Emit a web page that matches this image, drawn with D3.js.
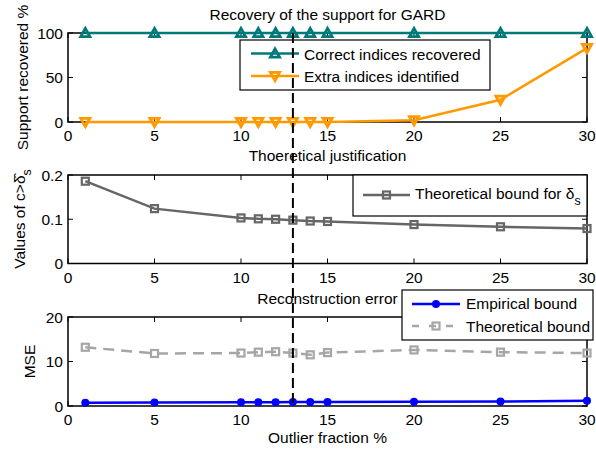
<!DOCTYPE html>
<html><head><meta charset="utf-8">
<script src="https://cdn.jsdelivr.net/npm/d3@7"></script>
<style>body{margin:0;background:#fff}svg{display:block}text{font-family:"Liberation Sans",Arial,sans-serif;}</style>
</head><body>
<script>
const xVals = [1,5,10,11,12,13,14,15,20,25,30];
const correctRecovered = [100,100,100,100,100,100,100,100,100,100,100];
const extraIdentified = [0,0,0,0,0,0,0,0,2,25,83];
const deltaBound = [0.186,0.124,0.103,0.101,0.100,0.098,0.096,0.095,0.088,0.083,0.079];
const empiricalMSE = [0.75,0.8,0.85,0.85,0.85,0.9,0.9,0.9,0.95,1.0,1.2];
const theoreticalMSE = [13.2,11.8,11.9,12.1,12.2,11.9,11.5,12.0,12.6,12.1,11.9];
const xTicks = [0,5,10,15,20,25,30];
const threshold = 13;
const titles = ["Recovery of the support for GARD","Thoeretical justification","Reconstruction error"];

const W=596,H=453, FS=15.5;
const svg=d3.select("body").append("svg").attr("width",W).attr("height",H);
const x=d3.scaleLinear().domain([0,30]).range([68,587]);
const panels=[
 {y:d3.scaleLinear().domain([0,100]).range([122,33]),ticks:[0,50,100],fmt:d=>d, title:titles[0], tb:20},
 {y:d3.scaleLinear().domain([0,0.2]).range([263.5,175]),ticks:[0,0.1,0.2],fmt:d=>d, title:titles[1], tb:161},
 {y:d3.scaleLinear().domain([0,20]).range([406,317]),ticks:[0,10,20],fmt:d=>d, title:titles[2], tb:304}
];
const TL=5;
panels.forEach(p=>{
  const g=svg.append("g");
  const [y0,y1]=p.y.range();
  xTicks.forEach(t=>{
    g.append("line").attr("x1",x(t)).attr("x2",x(t)).attr("y1",y0).attr("y2",y0-TL).attr("stroke","#000");
    g.append("line").attr("x1",x(t)).attr("x2",x(t)).attr("y1",y1).attr("y2",y1+TL).attr("stroke","#000");
    g.append("text").attr("x",x(t)).attr("y",y0+19).attr("text-anchor","middle").attr("font-size",FS).text(t);
  });
  p.ticks.forEach(t=>{
    g.append("line").attr("x1",x(0)).attr("x2",x(0)+TL).attr("y1",p.y(t)).attr("y2",p.y(t)).attr("stroke","#000");
    g.append("line").attr("x1",x(30)).attr("x2",x(30)-TL).attr("y1",p.y(t)).attr("y2",p.y(t)).attr("stroke","#000");
    g.append("text").attr("x",63).attr("y",p.y(t)).attr("dy","0.36em").attr("text-anchor","end").attr("font-size",FS).text(p.fmt(t));
  });
  g.append("rect").attr("x",x(0)).attr("y",y1).attr("width",x(30)-x(0)).attr("height",y0-y1)
   .attr("fill","none").attr("stroke","#000").attr("stroke-width",1.5);
  g.append("text").attr("x",(x(0)+x(30))/2).attr("y",p.tb).attr("text-anchor","middle").attr("font-size",FS).text(p.title);
  p.g=g;
});

function triUp(cx,cy,s){return `M${cx},${cy-s}L${cx-s},${cy+s*0.8}L${cx+s},${cy+s*0.8}Z`;}
function triDown(cx,cy,s){return `M${cx},${cy+s}L${cx-s},${cy-s*0.8}L${cx+s},${cy-s*0.8}Z`;}
function drawSeries(g,ys,vals,color,marker,dash){
  const line=d3.line().x((d,i)=>x(xVals[i])).y(d=>ys(d));
  const path=g.append("path").datum(vals).attr("d",line).attr("fill","none").attr("stroke",color).attr("stroke-width",2.5);
  if(dash) path.attr("stroke-dasharray",dash);
  vals.forEach((v,i)=>drawMarker(g,x(xVals[i]),ys(v),color,marker));
}
function drawMarker(g,cx,cy,color,marker){
  if(marker==="up") g.append("path").attr("d",triUp(cx,cy,4.6)).attr("fill","none").attr("stroke",color).attr("stroke-width",2.8).attr("stroke-linejoin","miter");
  else if(marker==="down") g.append("path").attr("d",triDown(cx,cy,4.6)).attr("fill","none").attr("stroke",color).attr("stroke-width",2.8);
  else if(marker==="sq") g.append("rect").attr("x",cx-3.5).attr("y",cy-3.5).attr("width",7).attr("height",7).attr("fill","none").attr("stroke",color).attr("stroke-width",2.2);
  else if(marker==="dot") g.append("circle").attr("cx",cx).attr("cy",cy).attr("r",4).attr("fill",color);
}
const teal="#007a78", orange="#ff9900", dgray="#666666", lgray="#a6a6a6", blue="#0000ff";
drawSeries(panels[0].g,panels[0].y,correctRecovered,teal,"up");
drawSeries(panels[0].g,panels[0].y,extraIdentified,orange,"down");
drawSeries(panels[1].g,panels[1].y,deltaBound,dgray,"sq");
drawSeries(panels[2].g,panels[2].y,theoreticalMSE,lgray,"sq","11,7");
drawSeries(panels[2].g,panels[2].y,empiricalMSE,blue,"dot");

function legend(box,entries){
  const g=svg.append("g");
  g.append("rect").attr("x",box[0]).attr("y",box[1]).attr("width",box[2]-box[0]).attr("height",box[3]-box[1]).attr("fill","#fff").attr("stroke","#000").attr("stroke-width",1.2);
  entries.forEach(e=>{
    const l=g.append("line").attr("x1",e.lx1).attr("x2",e.lx2).attr("y1",e.ly).attr("y2",e.ly).attr("stroke",e.color).attr("stroke-width",2.5);
    if(e.dash) l.attr("stroke-dasharray",e.dash);
    drawMarker(g,(e.lx1+e.lx2)/2,e.ly,e.color,e.marker);
    const t=g.append("text").attr("x",e.tx).attr("y",e.tb).attr("font-size",FS);
    t.append("tspan").text(e.text);
    if(e.sub) t.append("tspan").attr("font-size",FS*0.8).attr("dy",6).text(e.sub);
  });
}
legend([240,40,490,90],[
 {lx1:251,lx2:299,ly:53.5,color:teal,marker:"up",tx:304,tb:60,text:"Correct indices recovered"},
 {lx1:251,lx2:299,ly:76,color:orange,marker:"down",tx:304,tb:82,text:"Extra indices identified"}]);
legend([353,175,587,216],[
 {lx1:363,lx2:410,ly:195,color:dgray,marker:"sq",tx:415,tb:199,text:"Theoretical bound for δ",sub:"s"}]);
legend([402,290,593,340],[
 {lx1:412,lx2:460,ly:304,color:blue,marker:"dot",tx:466,tb:309,text:"Empirical bound"},
 {lx1:412,lx2:460,ly:326,color:lgray,marker:"sq",dash:"7,10",tx:466,tb:331.5,text:"Theoretical bound"}]);

svg.append("line").attr("x1",x(threshold)).attr("x2",x(threshold)).attr("y1",33).attr("y2",406)
  .attr("stroke","#000").attr("stroke-width",2).attr("stroke-dasharray","10,5");

svg.append("text").attr("x",(x(0)+x(30))/2).attr("y",443).attr("text-anchor","middle").attr("font-size",FS).text("Outlier fraction %");
svg.append("text").attr("transform","translate(28,77.5) rotate(-90)").attr("text-anchor","middle").attr("font-size",FS).text("Support recovered %");
const yl2=svg.append("text").attr("transform","translate(25,219) rotate(-90)").attr("text-anchor","middle").attr("font-size",FS);
yl2.append("tspan").text("Values of c>δ\u0302");
yl2.append("tspan").attr("font-size",FS*0.8).attr("dy",6).text("s");
svg.append("text").attr("transform","translate(35,361.5) rotate(-90)").attr("text-anchor","middle").attr("font-size",FS).text("MSE");
</script>
</body></html>
